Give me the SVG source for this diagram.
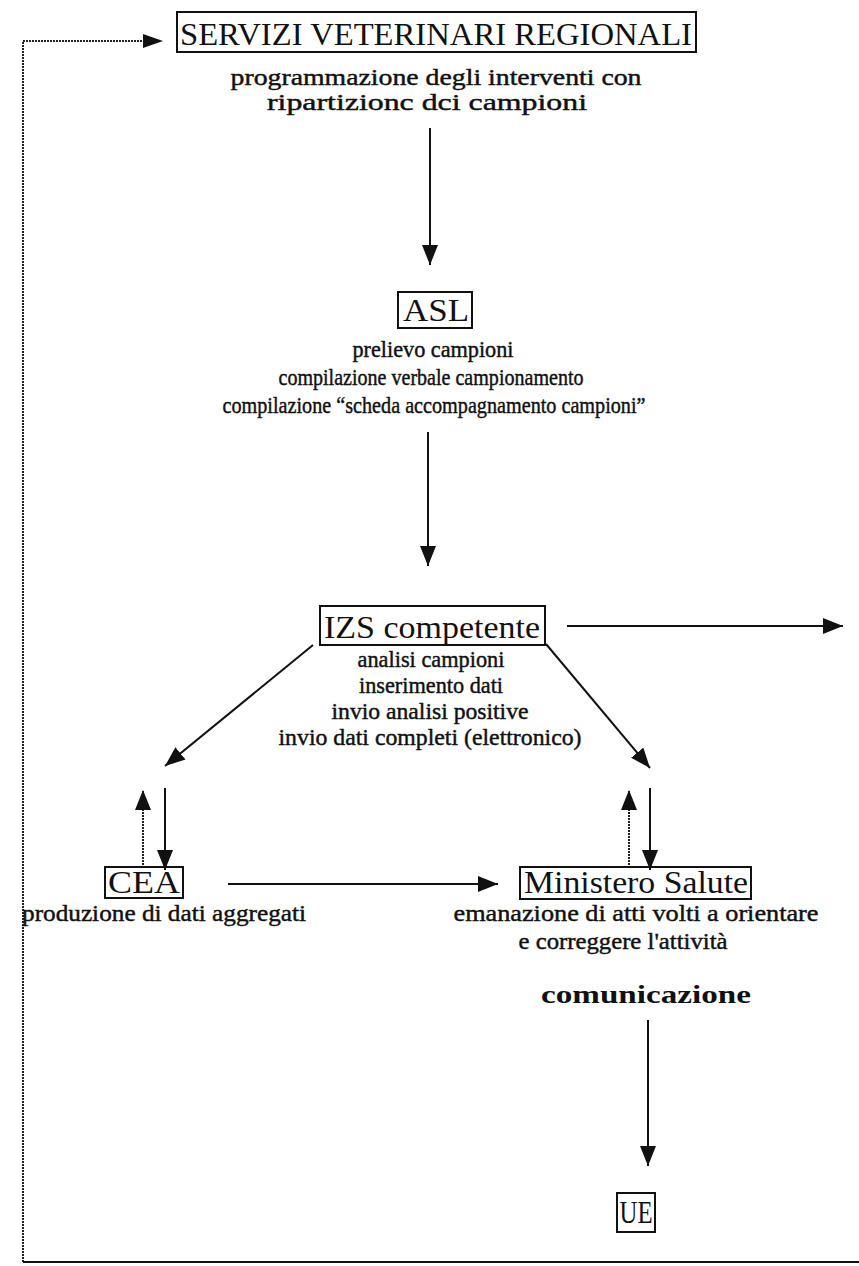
<svg xmlns="http://www.w3.org/2000/svg" width="859" height="1266" viewBox="0 0 859 1266">
<defs>
<style>
.lbl{font-family:"Liberation Serif","Times New Roman",serif;font-size:32px;fill:#111;text-anchor:middle}
.desc{font-family:"Liberation Serif","Times New Roman",serif;font-size:24px;fill:#111;stroke:#111;stroke-width:0.45;text-anchor:middle}
.bold{font-family:"Liberation Serif","Times New Roman",serif;font-size:25px;font-weight:bold;fill:#111;text-anchor:middle}
.box{fill:none;stroke:#111;stroke-width:2}
.arr{fill:none;stroke:#111;stroke-width:2}
.dot{fill:none;stroke:#222;stroke-width:2;stroke-dasharray:2 1}
</style>
<marker id="ah" markerUnits="userSpaceOnUse" markerWidth="20" markerHeight="16" refX="20" refY="8" orient="auto">
<path d="M0,0 L20,8 L0,16 Z" fill="#111"/>
</marker>
</defs>

<g id="connectors">
<polyline class="dot" points="23,1262 23,41 145,41"/>
<path d="M143,34 L163,41 L143,48 Z" fill="#111"/>
<line class="arr" x1="23" y1="1262" x2="859" y2="1262"/>
<line class="arr" x1="430" y1="128" x2="430" y2="265" marker-end="url(#ah)"/>
<line class="arr" x1="428" y1="432" x2="428" y2="566" marker-end="url(#ah)"/>
<line class="arr" x1="567" y1="626" x2="843" y2="626" marker-end="url(#ah)"/>
<line class="arr" x1="313" y1="645" x2="165" y2="766" marker-end="url(#ah)"/>
<line class="arr" x1="546" y1="644" x2="650" y2="768" marker-end="url(#ah)"/>
<line class="dot" x1="143" y1="868" x2="143" y2="790" marker-end="url(#ah)"/>
<line class="arr" x1="165" y1="788" x2="165" y2="870" marker-end="url(#ah)"/>
<line class="dot" x1="629" y1="868" x2="629" y2="790" marker-end="url(#ah)"/>
<line class="arr" x1="650" y1="788" x2="650" y2="870" marker-end="url(#ah)"/>
<line class="arr" x1="228" y1="884" x2="498" y2="884" marker-end="url(#ah)"/>
<line class="arr" x1="648" y1="1020" x2="648" y2="1166" marker-end="url(#ah)"/>
</g>

<g id="node-servizi">
<rect class="box" x="177" y="12" width="519" height="40" stroke-width="2.5"/>
<text class="lbl" x="436" y="45" font-size="31" textLength="512" lengthAdjust="spacingAndGlyphs">SERVIZI VETERINARI REGIONALI</text>
<text class="desc" x="436" y="85" textLength="411" lengthAdjust="spacingAndGlyphs">programmazione degli interventi con</text>
<text class="desc" x="427" y="110" textLength="320" lengthAdjust="spacingAndGlyphs">ripartizionc dci campioni</text>
</g>

<g id="node-asl">
<rect class="box" x="398" y="292" width="74" height="36"/>
<text class="lbl" x="436" y="321" textLength="66" lengthAdjust="spacingAndGlyphs">ASL</text>
<text class="desc" x="433" y="357" textLength="161" lengthAdjust="spacingAndGlyphs">prelievo campioni</text>
<text class="desc" x="431" y="385" textLength="305" lengthAdjust="spacingAndGlyphs">compilazione verbale campionamento</text>
<text class="desc" x="434" y="413" textLength="423" lengthAdjust="spacingAndGlyphs">compilazione “scheda accompagnamento campioni”</text>
</g>

<g id="node-izs">
<rect class="box" x="320" y="606" width="225" height="39"/>
<text class="lbl" x="432" y="638" font-size="33" textLength="216" lengthAdjust="spacingAndGlyphs">IZS competente</text>
<text class="desc" x="431" y="667" textLength="147" lengthAdjust="spacingAndGlyphs">analisi campioni</text>
<text class="desc" x="431" y="693" textLength="144" lengthAdjust="spacingAndGlyphs">inserimento dati</text>
<text class="desc" x="430" y="719" textLength="197" lengthAdjust="spacingAndGlyphs">invio analisi positive</text>
<text class="desc" x="430" y="745" textLength="303" lengthAdjust="spacingAndGlyphs">invio dati completi (elettronico)</text>
</g>

<g id="node-cea">
<rect class="box" x="105" y="867" width="78" height="31"/>
<text class="lbl" x="144" y="893" font-size="30" textLength="72" lengthAdjust="spacingAndGlyphs">CEA</text>
<text class="desc" x="164" y="921" textLength="284" lengthAdjust="spacingAndGlyphs">produzione di dati aggregati</text>
</g>

<g id="node-ministero">
<rect class="box" x="520" y="867" width="231" height="32"/>
<text class="lbl" x="636" y="893" font-size="30" textLength="224" lengthAdjust="spacingAndGlyphs">Ministero Salute</text>
<text class="desc" x="636" y="921" textLength="365" lengthAdjust="spacingAndGlyphs">emanazione di atti volti a orientare</text>
<text class="desc" x="623" y="949" textLength="209" lengthAdjust="spacingAndGlyphs">e correggere l'attività</text>
</g>

<g id="node-comunicazione">
<text class="bold" x="646" y="1003" textLength="210" lengthAdjust="spacingAndGlyphs">comunicazione</text>
</g>

<g id="node-ue">
<rect class="box" x="617" y="1193" width="38" height="39"/>
<text class="lbl" x="636" y="1223" font-size="29" textLength="33" lengthAdjust="spacingAndGlyphs">UE</text>
</g>
</svg>
